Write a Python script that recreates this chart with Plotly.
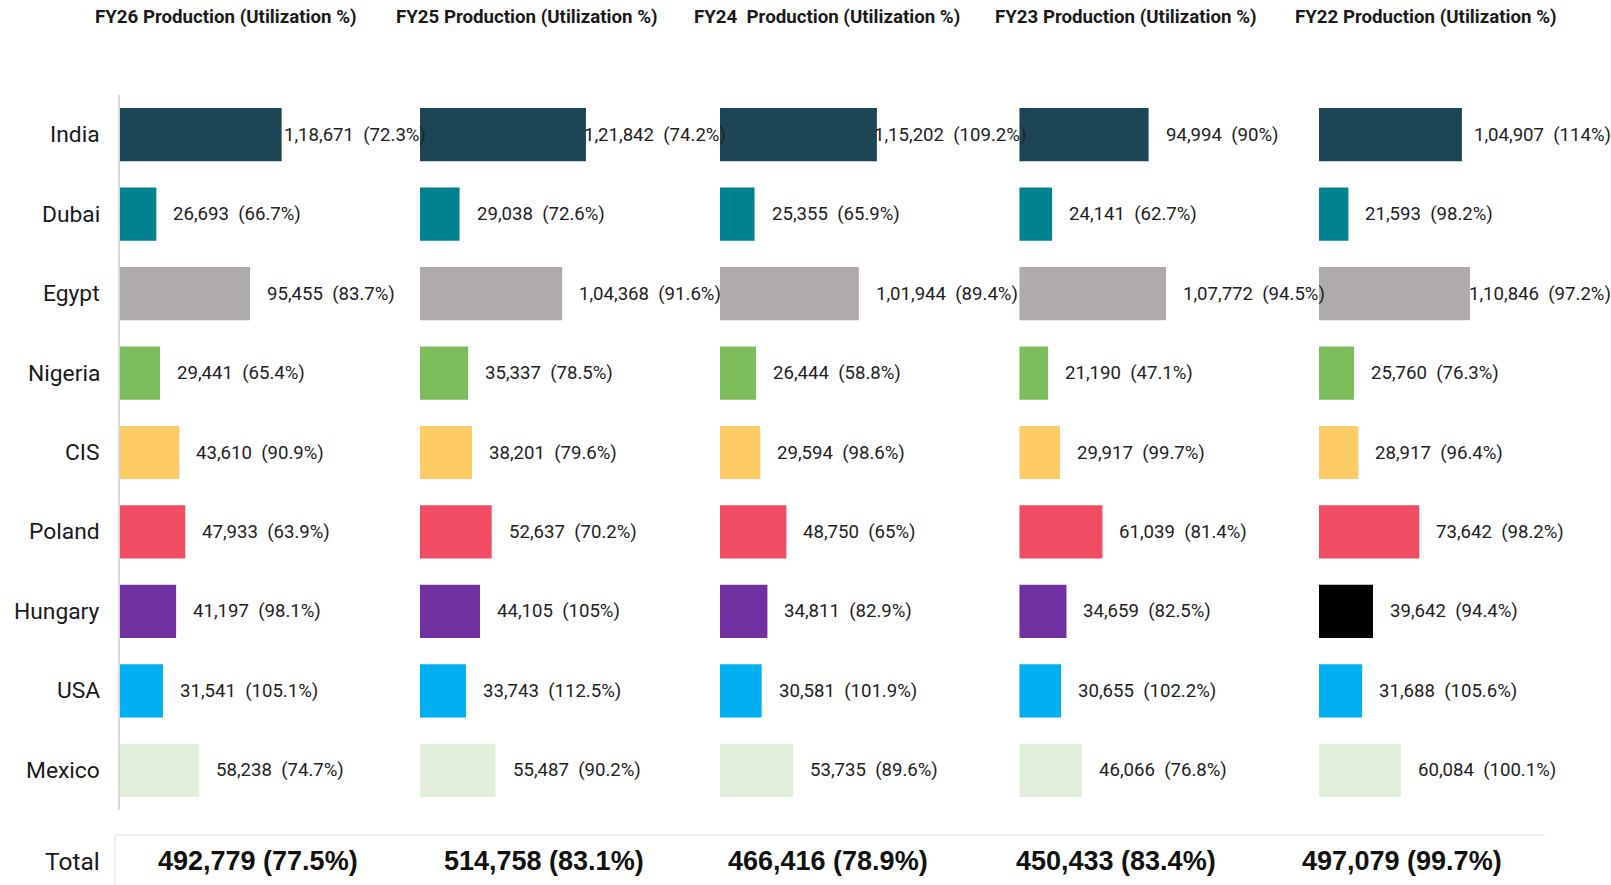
import plotly.graph_objects as go

# ---------------- data ----------------
countries = ["India", "Dubai", "Egypt", "Nigeria", "CIS", "Poland", "Hungary", "USA", "Mexico"]
years = ["FY26", "FY25", "FY24", "FY23", "FY22"]
titles = ["FY26 Production (Utilization %)", "FY25 Production (Utilization %)",
          "FY24\u00a0\u00a0Production (Utilization %)", "FY23 Production (Utilization %)",
          "FY22 Production (Utilization %)"]

fy26_prod = [118671, 26693, 95455, 29441, 43610, 47933, 41197, 31541, 58238]
fy26_util = [72.3, 66.7, 83.7, 65.4, 90.9, 63.9, 98.1, 105.1, 74.7]
fy25_prod = [121842, 29038, 104368, 35337, 38201, 52637, 44105, 33743, 55487]
fy25_util = [74.2, 72.6, 91.6, 78.5, 79.6, 70.2, 105, 112.5, 90.2]
fy24_prod = [115202, 25355, 101944, 26444, 29594, 48750, 34811, 30581, 53735]
fy24_util = [109.2, 65.9, 89.4, 58.8, 98.6, 65, 82.9, 101.9, 89.6]
fy23_prod = [94994, 24141, 107772, 21190, 29917, 61039, 34659, 30655, 46066]
fy23_util = [90, 62.7, 94.5, 47.1, 99.7, 81.4, 82.5, 102.2, 76.8]
fy22_prod = [104907, 21593, 110846, 25760, 28917, 73642, 39642, 31688, 60084]
fy22_util = [114, 98.2, 97.2, 76.3, 96.4, 98.2, 94.4, 105.6, 100.1]

total_prod = [492779, 514758, 466416, 450433, 497079]
total_util = [77.5, 83.1, 78.9, 83.4, 99.7]

country_colors = ["#1c4655", "#00838f", "#afabab", "#7dbd5b", "#fecb67",
                  "#f04c64", "#7030a0", "#00b0f0", "#e2efda"]
fy22_colors = ["#1c4655", "#00838f", "#afabab", "#7dbd5b", "#fecb67",
               "#f04c64", "#000000", "#00b0f0", "#e2efda"]

prods = [fy26_prod, fy25_prod, fy24_prod, fy23_prod, fy22_prod]
utils = [fy26_util, fy25_util, fy24_util, fy23_util, fy22_util]
colors = [country_colors] * 4 + [fy22_colors]


def indian_fmt(n):
    s = str(int(n))
    if len(s) <= 3:
        return s
    last3 = s[-3:]
    rest = s[:-3]
    groups = []
    while len(rest) > 2:
        groups.insert(0, rest[-2:])
        rest = rest[:-2]
    if rest:
        groups.insert(0, rest)
    return ",".join(groups) + "," + last3


def pct_fmt(p):
    return f"{p:g}%"


# approximate Roboto advance widths (em) for label-width estimation
ROBOTO_EM = {",": 0.192, " ": 0.2476, "\u00a0": 0.2476, "(": 0.334, ")": 0.339,
             ".": 0.263, "%": 0.715}


def text_width(s, size):
    return sum(ROBOTO_EM.get(ch, 0.5615) for ch in s) * size


# ---------------- layout geometry ----------------
W_FIG, H_FIG = 1611, 885
PX_PER_UNIT = 1.362e-3
panel_start_px = [120, 420, 720, 1019.25, 1319]
panel_w_px = 290
plot_top_px, plot_bot_px = 95, 810
label_gap_px = 15
label_end_cap_px = 303
label_size = 18.6
right_limit_px = 1608

fig = go.Figure()
layout_axes = {}
annotations = []

for i in range(5):
    xa = "x" if i == 0 else f"x{i+1}"
    xkey = "xaxis" if i == 0 else f"xaxis{i+1}"
    fig.add_trace(go.Bar(
        x=prods[i], y=countries, orientation="h",
        marker=dict(color=colors[i], line=dict(width=0)),
        width=0.67, xaxis=xa, yaxis="y", hoverinfo="skip", showlegend=False,
    ))
    d0 = panel_start_px[i] / W_FIG
    d1 = (panel_start_px[i] + panel_w_px) / W_FIG
    layout_axes[xkey] = dict(domain=[d0, d1], range=[0, panel_w_px / PX_PER_UNIT],
                             visible=False, anchor="y", fixedrange=True)
    # value labels
    for c, v, u in zip(countries, prods[i], utils[i]):
        txt = f"{indian_fmt(v)}\u00a0\u00a0({pct_fmt(u)})"
        w = text_width(txt, label_size)
        max_start_px = min(label_end_cap_px - w, right_limit_px - panel_start_px[i] - w)
        xpos = min(v + label_gap_px / PX_PER_UNIT, max_start_px / PX_PER_UNIT)
        annotations.append(dict(
            x=xpos, y=c, xref=xa, yref="y", xanchor="left", yanchor="middle",
            text=txt, showarrow=False,
            font=dict(family="Roboto", size=label_size, color="#222222"),
        ))
    # panel title
    annotations.append(dict(
        x=(panel_start_px[i] + 106.5) / W_FIG, y=1 - 16.5 / H_FIG, xref="paper", yref="paper",
        xanchor="center", yanchor="middle", text=f"<b>{titles[i]}</b>", showarrow=False,
        font=dict(family="Roboto", size=18.7, color="#1a1a1a"),
    ))

# category labels
for c in countries:
    annotations.append(dict(
        x=102 / W_FIG, y=c, xref="paper", yref="y", xanchor="right", yanchor="middle",
        text=c, showarrow=False, font=dict(family="Roboto", size=22.8, color="#1a1a1a"),
    ))

# total row
total_centers_px = [258, 543.5, 828, 1116, 1402]
total_y = 1 - 861 / H_FIG
annotations.append(dict(
    x=102 / W_FIG, y=total_y, xref="paper", yref="paper", xanchor="right", yanchor="middle",
    text="Total", showarrow=False, font=dict(family="Roboto", size=24.5, color="#1a1a1a"),
))
for cx, tp, tu in zip(total_centers_px, total_prod, total_util):
    annotations.append(dict(
        x=cx / W_FIG, y=total_y, xref="paper", yref="paper", xanchor="center", yanchor="middle",
        text=f"<b>{tp:,} ({pct_fmt(tu)})</b>", showarrow=False,
        font=dict(family="Liberation Sans", size=27, color="#111111"),
    ))

shapes = [
    dict(type="line", xref="paper", yref="paper",
         x0=115 / W_FIG, x1=1545 / W_FIG, y0=1 - 835 / H_FIG, y1=1 - 835 / H_FIG,
         line=dict(color="#eeeeee", width=2)),
    dict(type="line", xref="paper", yref="paper",
         x0=115 / W_FIG, x1=115 / W_FIG, y0=1 - 835 / H_FIG, y1=0,
         line=dict(color="#eeeeee", width=2)),
]

fig.update_layout(
    width=W_FIG, height=H_FIG,
    margin=dict(l=0, r=0, t=0, b=0),
    paper_bgcolor="white", plot_bgcolor="white",
    bargap=0.33,
    yaxis=dict(domain=[1 - plot_bot_px / H_FIG, 1 - plot_top_px / H_FIG],
               type="category", categoryorder="array", categoryarray=countries,
               range=[8.5, -0.5], showticklabels=False, showgrid=False, zeroline=False,
               showline=True, linecolor="#d9d9d9", linewidth=2, ticks="", anchor="x",
               fixedrange=True),
    annotations=annotations,
    shapes=shapes,
    **layout_axes,
)

fig.write_html("out.html")
